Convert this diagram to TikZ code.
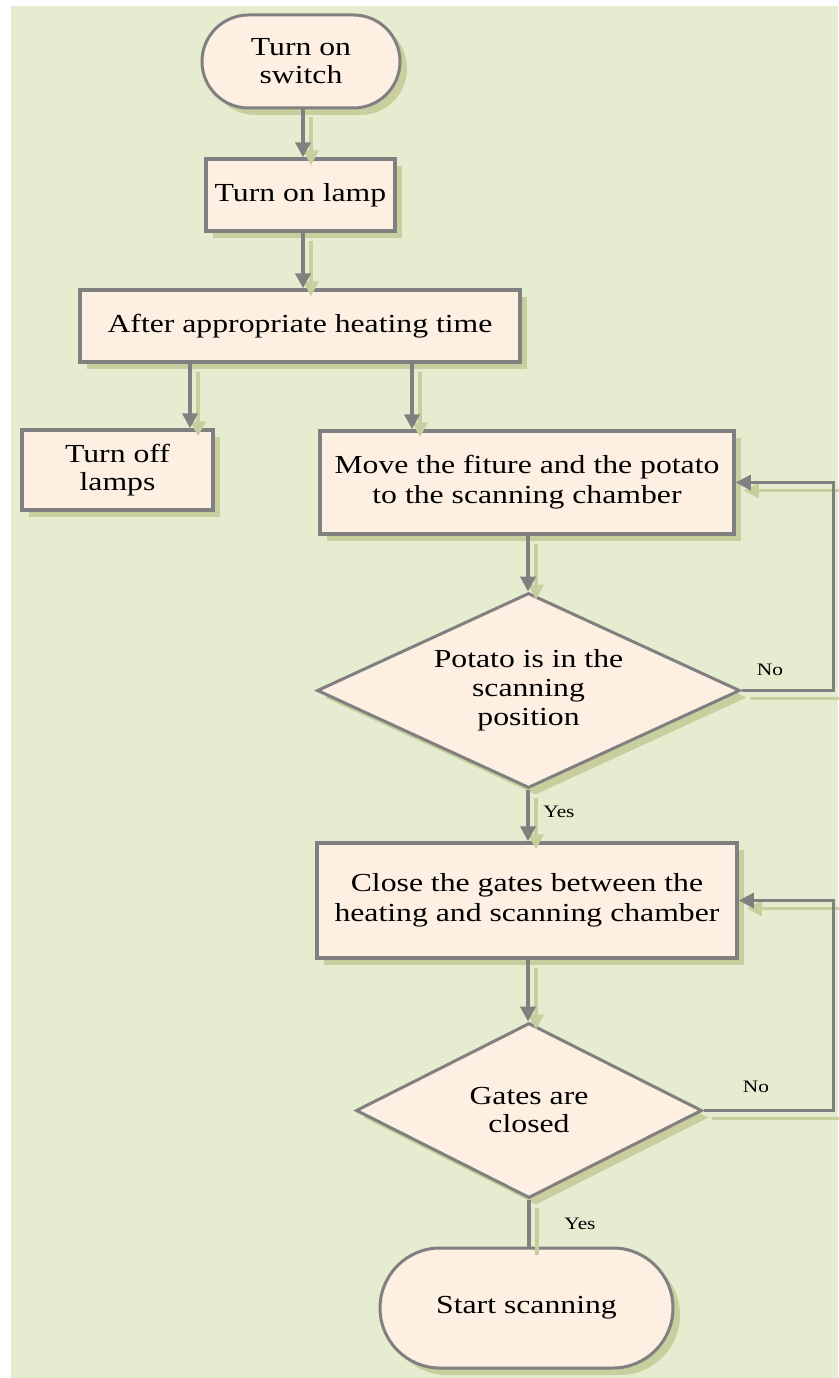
\documentclass[tikz,border=0pt]{standalone}
\usepackage{fontspec}
\setmainfont[FakeStretch=1.22]{Liberation Serif}
\usetikzlibrary{shapes.geometric,shapes.misc,shadows,arrows.meta}
\definecolor{bgc}{RGB}{230,236,208}
\definecolor{fillc}{RGB}{253,239,226}
\definecolor{linec}{RGB}{128,128,128}
\definecolor{shadc}{RGB}{200,206,158}
\begin{document}
\begin{tikzpicture}[x=1pt,y=-1pt,
  base/.style={fill=fillc,draw=linec,align=center,inner sep=0pt,
    font=\fontsize{26}{30}\selectfont,
    drop shadow={shadow xshift=7pt,shadow yshift=-7pt,fill=shadc,opacity=1}},
  tight/.style={font=\fontsize{26}{28}\selectfont},
  procbox/.style={base,rectangle,line width=3.5pt},
  termnode/.style={base,rounded rectangle,line width=3pt},
  decnode/.style={base,diamond,line width=3pt,aspect=2.2},
  conn/.style={draw=linec,line width=4pt,-{Triangle[length=15pt,width=15pt]}},
  connsh/.style={draw=shadc,line width=4pt,-{Triangle[length=15pt,width=15pt]},
    transform canvas={shift={(8pt,-8pt)}}},
  loopc/.style={conn,line width=3pt},
  loopsh/.style={connsh,line width=3pt},
  plain/.style={draw=linec,line width=4pt},
  plainsh/.style={draw=shadc,line width=4pt,transform canvas={shift={(8pt,-8pt)}}},
  lbl/.style={font=\fontsize{17.5}{20}\selectfont,inner sep=0pt}
]
\useasboundingbox (0,0) rectangle (838,1378);
\fill[bgc] (11,6) rectangle (838,1378);

% nodes
\node[termnode,tight,minimum width=198pt,minimum height=93pt] (sw) at (301,61.5) {Turn on\\switch};
\node[procbox,minimum width=189pt,minimum height=72pt] (lamp) at (300.5,195) {Turn on lamp};
\node[procbox,minimum width=440pt,minimum height=72pt] (after) at (300,326) {After appropriate heating time};
\node[procbox,tight,minimum width=191pt,minimum height=80pt] (off) at (117.5,470) {Turn off\\lamps};
\node[procbox,minimum width=414pt,minimum height=103pt] (move) at (527,482.5) {Move the fiture and the potato\\to the scanning chamber};
\node[decnode,font=\fontsize{26}{29}\selectfont,minimum width=423pt,minimum height=195pt] (d1) at (528.5,690.5) {Potato is in the\\scanning\\position};
\node[procbox,minimum width=420pt,minimum height=115pt] (close) at (527,900.5) {Close the gates between the\\heating and scanning chamber};
\node[decnode,tight,minimum width=346pt,minimum height=175pt] (d2) at (529,1110.5) {Gates are\\closed};
\node[termnode,minimum width=293pt,minimum height=120pt] (start) at (526.5,1308) {Start scanning};

% helper coordinates
\coordinate (xa) at (303,0);
\coordinate (xoff) at (190,0);
\coordinate (xmv) at (412,0);
\coordinate (xc) at (528,0);
\coordinate (xr) at (833,0);

% connector shadows
\draw[connsh] (sw.south -| xa) -- (lamp.north -| xa);
\draw[connsh] (lamp.south -| xa) -- (after.north -| xa);
\draw[connsh] (after.south -| xoff) -- (off.north -| xoff);
\draw[connsh] (after.south -| xmv) -- (move.north -| xmv);
\draw[connsh] (move.south -| xc) -- (d1.north -| xc);
\draw[connsh] (d1.south -| xc) -- (close.north -| xc);
\draw[connsh] (close.south -| xc) -- (d2.north -| xc);
\draw[plainsh] (d2.south) -- (d2.south |- start.north);
\draw[loopsh] (d1.east) -- (d1.east -| xr) -- (xr |- move.east) -- (move.east);
\draw[loopsh] (d2.east) -- (d2.east -| xr) -- (xr |- close.east) -- (close.east);

% connectors
\draw[conn] (sw.south -| xa) -- (lamp.north -| xa);
\draw[conn] (lamp.south -| xa) -- (after.north -| xa);
\draw[conn] (after.south -| xoff) -- (off.north -| xoff);
\draw[conn] (after.south -| xmv) -- (move.north -| xmv);
\draw[conn] (move.south -| xc) -- (d1.north -| xc);
\draw[conn] (d1.south -| xc) -- (close.north -| xc);
\draw[conn] (close.south -| xc) -- (d2.north -| xc);
\draw[plain] (d2.south) -- (d2.south |- start.north);
\draw[loopc] (d1.east) -- (d1.east -| xr) -- (xr |- move.east) -- (move.east);
\draw[loopc] (d2.east) -- (d2.east -| xr) -- (xr |- close.east) -- (close.east);

% labels
\node[lbl] (no1) at (770,670) {No};
\node[lbl] (yes1) at (559,812) {Yes};
\node[lbl] (no2) at (756,1087) {No};
\node[lbl] (yes2) at (580,1224) {Yes};
\end{tikzpicture}
\end{document}
